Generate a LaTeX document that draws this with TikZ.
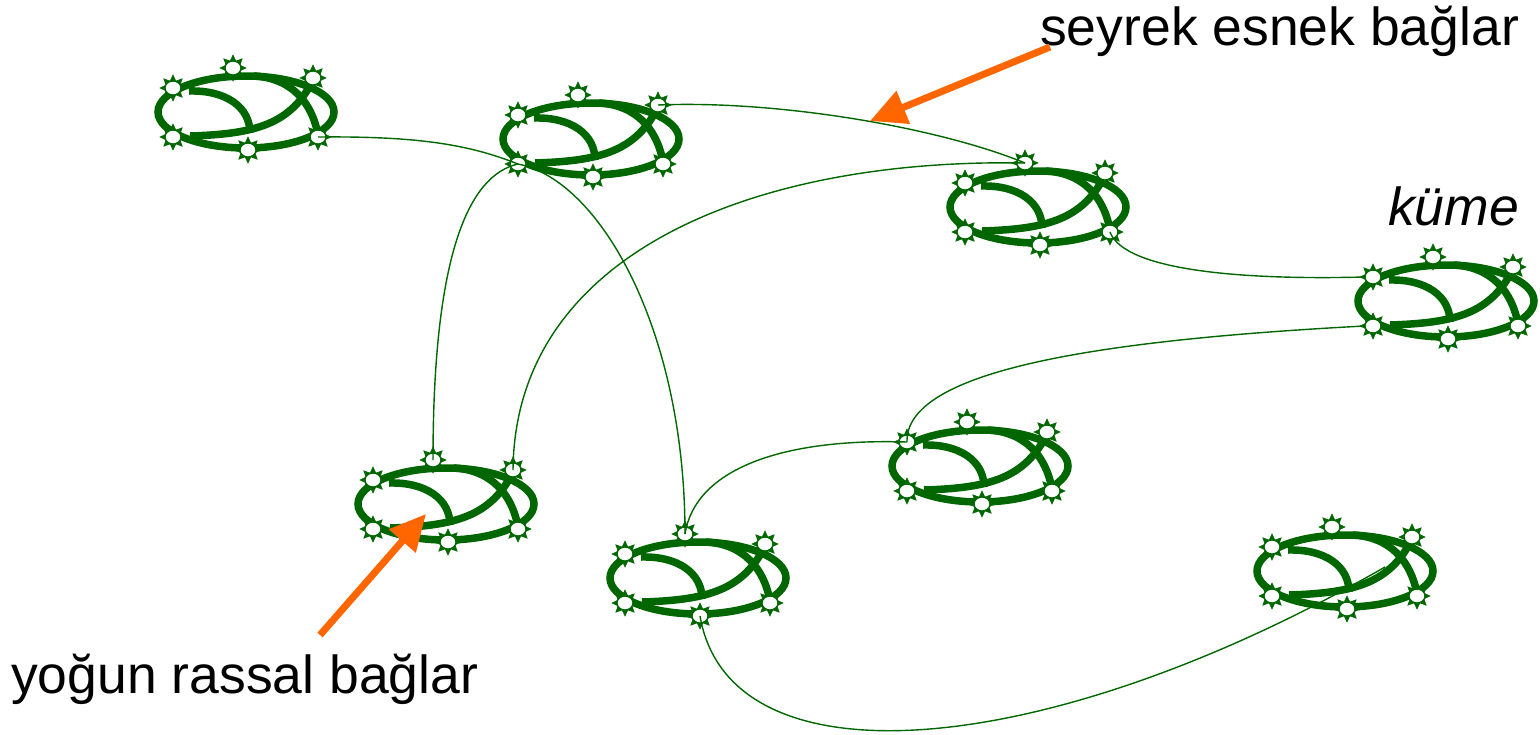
\documentclass[tikz,border=0pt]{standalone}
\usepackage{fontspec}
\setmainfont{Liberation Sans}
\usetikzlibrary{shapes.geometric,arrows.meta}
\definecolor{dgreen}{RGB}{0,102,0}
\definecolor{dorange}{RGB}{255,102,0}
\tikzset{
  sunray/.style={star, star points=8, star point ratio=1.75, minimum size=26pt, inner sep=0pt, draw=dgreen, fill=dgreen, line width=0.6pt},
  suncore/.style={ellipse, minimum width=16pt, minimum height=14pt, inner sep=0pt, draw=dgreen, fill=white, line width=1.3pt},
  ring/.style={draw=dgreen, line width=7.5pt},
  link/.style={draw=dgreen, line width=1.4pt},
  pointer/.style={draw=dorange, line width=7pt, -{Triangle[length=36pt,width=34pt]}},
  label/.style={font=\fontsize{53.5}{60}\selectfont, anchor=base west, inner sep=0pt},
  pics/cluster/.style={code={
    \draw[ring] (0,0) ellipse [x radius=88, y radius=36];
    \draw[ring] (-57,-21) .. controls (-20,-22) and (4,-5) .. (4,21);
    \draw[ring] (-56,24) .. controls (10,22) and (45,12) .. (67,-32);
    \draw[ring] (8,-36) .. controls (45,-34) and (66,-10) .. (72,23);
    \foreach \n/\px/\py in {ul/-73/-24, top/-13/-44, ur/67/-34, ll/-73/25, bot/2/38, lr/72/25} {
      \node[sunray] at (\px,\py) {};
      \node[suncore] (-\n) at (\px,\py) {};
    }
  }}
}
\begin{document}
\begin{tikzpicture}[x=1pt,y=-1pt]
\useasboundingbox (0,0) rectangle (1540,734);
% clusters
\pic (c1) at (246,112) {cluster};
\pic (c2) at (591,139) {cluster};
\pic (c3) at (1038,207) {cluster};
\pic (c4) at (1446,301) {cluster};
\pic (c5) at (980,466) {cluster};
\pic (c6) at (446,504) {cluster};
\pic (c7) at (698,578) {cluster};
\pic (c8) at (1345,571) {cluster};
\coordinate (c8in) at (1385,567);
% connectors
\draw[link] (c1-lr.center) .. controls (420,136) and (470,145) .. (c2-ll.center);
\draw[link] (c2-ur.center) .. controls (780,100) and (940,128) .. (c3-top.center);
\draw[link] (c2-ll.center) .. controls (470,175) and (433,250) .. (c6-top.center);
\draw[link] (c2-ll.center) .. controls (600,180) and (685,330) .. (c7-top.center);
\draw[link] (c3-top.center) .. controls (760,158) and (515,250) .. (c6-ur.center);
\draw[link] (c3-lr.center) .. controls (1125,272) and (1250,280) .. (c4-ul.west);
\draw[link] (c4-ll.west) .. controls (1100,340) and (905,370) .. (c5-ul.center);
\draw[link] (c5-ul.center) .. controls (780,438) and (695,470) .. (c7-top.center);
\draw[link] (c7-bot.center) .. controls (730,790) and (1050,760) .. (c8in);
% labels
\node[label] (t1) at (1040,45) {seyrek esnek bağlar};
\node[label] (t2) at (11,693) {yoğun rassal bağlar};
\node[label] (t3) at (1388,225) {\itshape küme};
\coordinate (a1s) at (1050,47);
\coordinate (a1e) at (870,121);
\coordinate (a2s) at (320,635);
\coordinate (a2e) at (426,514);
\draw[pointer] (a1s) -- (a1e);
\draw[pointer] (a2s) -- (a2e);
\end{tikzpicture}
\end{document}
